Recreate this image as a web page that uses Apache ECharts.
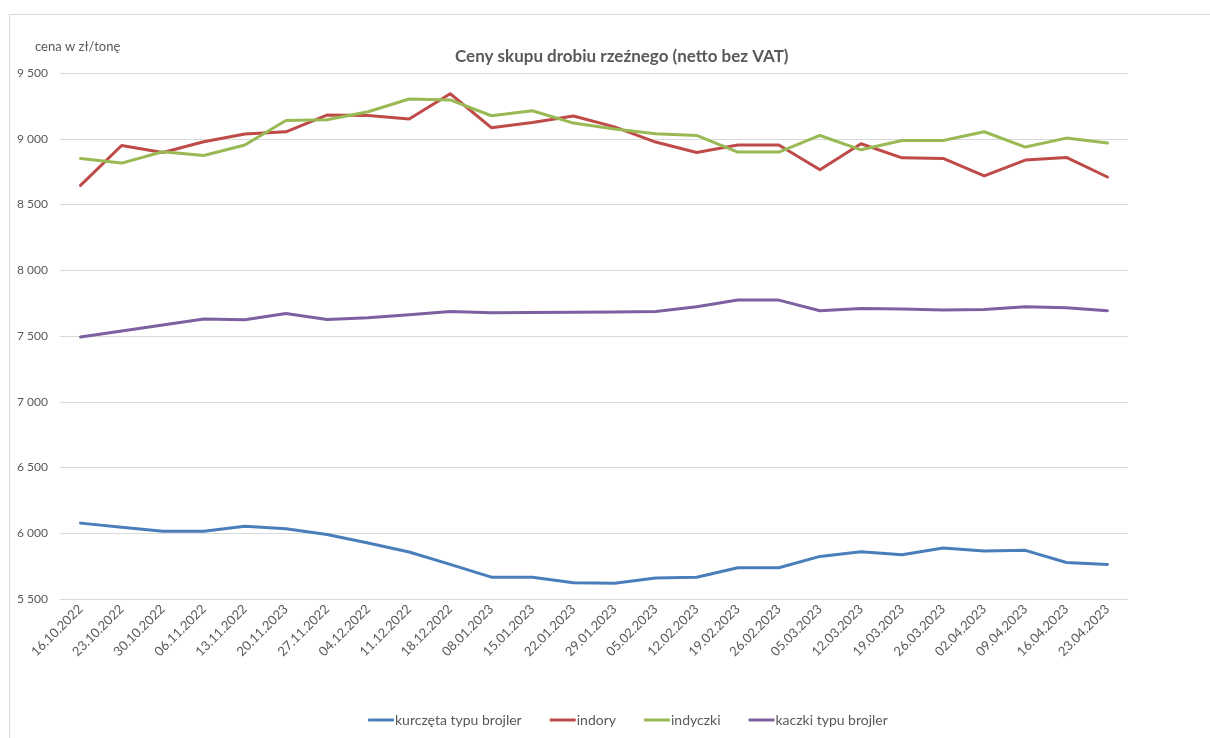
<!DOCTYPE html>
<html>
<head>
<meta charset="utf-8">
<script src="https://cdn.jsdelivr.net/npm/echarts@6/dist/echarts.min.js"></script>
<style>
  html, body { margin: 0; padding: 0; background: #fff; }
  #chart { width: 1210px; height: 738px; position: relative; }
  #frame { position: absolute; left: 9px; top: 14px; width: 1210px; height: 738px;
           border-left: 1px solid #d9d9d9; border-top: 1px solid #d9d9d9; pointer-events: none; }
</style>
</head>
<body>
<div id="chart"></div>
<div id="frame"></div>
<script>
// daty notowań
const weeks = [
  '16.10.2022', '23.10.2022', '30.10.2022', '06.11.2022', '13.11.2022', '20.11.2023',
  '27.11.2022', '04.12.2022', '11.12.2022', '18.12.2022', '08.01.2023', '15.01.2023',
  '22.01.2023', '29.01.2023', '05.02.2023', '12.02.2023', '19.02.2023', '26.02.2023',
  '05.03.2023', '12.03.2023', '19.03.2023', '26.03.2023', '02.04.2023', '09.04.2023',
  '16.04.2023', '23.04.2023'
]

// ceny w zł/tonę
const kurczeta = [
  6077, 6046, 6015, 6015, 6054, 6034, 5990, 5926, 5857, 5763, 5666, 5666, 5623,
  5620, 5659, 5666, 5738, 5738, 5824, 5860, 5837, 5888, 5865, 5870, 5778, 5763
]
const indory = [
  8645, 8949, 8896, 8977, 9036, 9053, 9180, 9177, 9150, 9342, 9084, 9124, 9173,
  9090, 8975, 8896, 8952, 8952, 8764, 8962, 8855, 8850, 8718, 8838, 8858, 8709
]
const indyczki = [
  8850, 8815, 8901, 8873, 8952, 9139, 9145, 9205, 9302, 9295, 9175, 9213, 9119,
  9074, 9038, 9025, 8899, 8899, 9025, 8916, 8987, 8987, 9053, 8937, 9005, 8967
]
const kaczki = [
  7492, 7538, 7584, 7629, 7623, 7671, 7626, 7639, 7661, 7687, 7677, 7679, 7681,
  7682, 7686, 7722, 7773, 7773, 7692, 7710, 7705, 7697, 7702, 7722, 7714, 7692
]

const textColor = '#595959'
const font = 'Lato, "Open Sans", sans-serif'

const chart = echarts.init(document.getElementById('chart'))

const makeSeries = (name, data, color) => ({
  name,
  type: 'line',
  data,
  symbol: 'none',
  lineStyle: { width: 3, color, cap: 'round', join: 'round' },
  itemStyle: { color }
})

const option = {
  animation: false,
  textStyle: { fontFamily: font },
  title: {
    text: 'Ceny skupu drobiu rzeźnego (netto bez VAT)',
    left: 450,
    top: 43,
    textStyle: { color: textColor, fontSize: 17, fontWeight: 'bold', fontFamily: font }
  },
  legend: {
    bottom: 6,
    left: 363,
    itemWidth: 26,
    itemHeight: 3,
    itemGap: 28,
    icon: 'roundRect',
    textStyle: { color: textColor, fontSize: 14, padding: [0, 0, 0, -4] },
    data: ['kurczęta typu brojler', 'indory', 'indyczki', 'kaczki typu brojler']
  },
  grid: { left: 60, right: 82, top: 73, bottom: 139 },
  xAxis: {
    type: 'category',
    data: weeks,
    boundaryGap: true,
    axisLine: { show: false },
    axisTick: { show: false },
    axisLabel: { rotate: 45, color: textColor, fontSize: 13, margin: 8, interval: 0 }
  },
  yAxis: {
    type: 'value',
    min: 5500,
    max: 9500,
    interval: 500,
    name: 'cena w zł/tonę',
    nameLocation: 'end',
    nameGap: 20,
    nameTextStyle: { color: textColor, fontSize: 13, align: 'left', padding: [0, 0, 0, -25] },
    axisLine: { show: false },
    axisTick: { show: false },
    splitLine: { lineStyle: { color: '#d9d9d9', width: 1 } },
    axisLabel: {
      color: textColor,
      fontSize: 12,
      margin: 12,
      formatter: (v) => String(v).replace(/\B(?=(\d{3})+(?!\d))/g, ' ')
    }
  },
  series: [
    makeSeries('kurczęta typu brojler', kurczeta, '#4a7ebb'),
    makeSeries('indory', indory, '#be4b48'),
    makeSeries('indyczki', indyczki, '#98b954'),
    makeSeries('kaczki typu brojler', kaczki, '#7d60a0')
  ]
}

chart.setOption(option)
</script>
</body>
</html>
